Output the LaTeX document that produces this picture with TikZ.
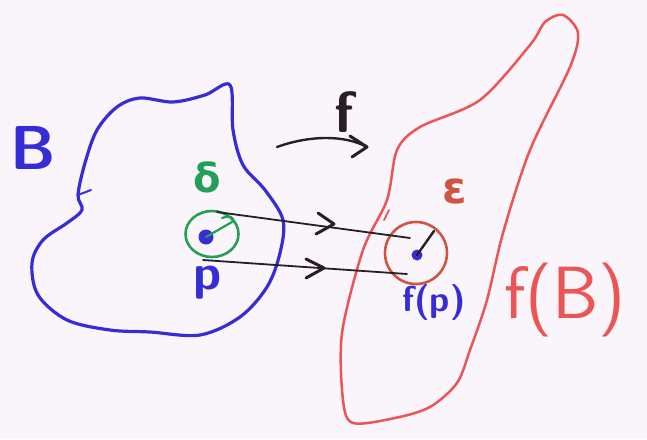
\documentclass[tikz,border=0pt]{standalone}
\usepackage{fontspec}
\newfontfamily\grk{DejaVu Sans}
\usetikzlibrary{arrows.meta,shapes.geometric}
\definecolor{paper}{RGB}{250,245,250}
\definecolor{penblue}{RGB}{55,45,215}
\definecolor{penred}{RGB}{236,85,85}
\definecolor{pengreen}{RGB}{35,160,85}
\definecolor{penblack}{RGB}{40,30,35}
\definecolor{penbrown}{RGB}{205,85,65}
\tikzset{
  bluepen/.style={draw=penblue,line width=3.2pt,line cap=round,line join=round},
  redpen/.style={draw=penred,line width=2.5pt,line cap=round,line join=round},
  blackpen/.style={draw=penblack,line width=1.8pt,line cap=round},
  chev/.style={draw=penblack,line width=3pt,line cap=round,line join=round},
  lab/.style={inner sep=0pt}
}
\begin{document}
\begin{tikzpicture}[x=1pt,y=-1pt]
\fill[paper] (0,0) rectangle (647,439);
\useasboundingbox (0,0) rectangle (647,439);
% region B
\draw[bluepen] plot[smooth cycle,tension=0.55] coordinates {
 (230,85) (205,95) (173,102) (140,98) (117,107) (97,130) (85,163) (78,195)
 (82,210) (67,223) (43,240) (32,263) (38,295) (67,320) (110,330) (150,332)
 (200,335) (240,317) (267,287) (280,253) (283,220) (265,190) (243,165) (233,130)};
\draw[bluepen,line width=2pt] (78,195) -- (91,190);
% region f(B)
\draw[redpen] plot[smooth cycle,tension=0.5] coordinates {
 (563,15) (578,33) (570,67) (530,150) (503,233) (487,300) (470,350) (457,383)
 (430,407) (395,418) (353,423) (343,400) (342,333) (363,250) (387,200)
 (397,150) (420,127) (480,100) (530,45) (545,22)};
\draw[redpen,line width=1.8pt] (384,220) -- (389,210);
% labels
\node[lab,text=penblue,font=\sffamily\bfseries\fontsize{62}{62}\selectfont] (B) at (33,148) {B};
\node[lab,text=penred,font=\sffamily\fontsize{74}{74}\selectfont] (fB) at (565,300) {f(B)};
\node[lab,text=penblack,font=\sffamily\bfseries\fontsize{58}{58}\selectfont] (f) at (344,112) {f};
% f arrow
\coordinate (fa1) at (277,147);
\coordinate (fa2) at (367,147);
\draw[blackpen,line width=2.4pt] (fa1) .. controls (310,135) and (345,135) .. (fa2);
\draw[chev] (350,136) -- (367,147) -- (352,157);
% neighbourhood of p
\node[draw=pengreen,line width=2.6pt,ellipse,minimum width=53pt,minimum height=46pt,inner sep=0pt] (U) at (212,234) {};
\node[circle,fill=penblue,minimum size=15pt,inner sep=0pt] (p) at (206,237) {};
\draw[draw=pengreen,line width=2.2pt,line cap=round] (p.center) -- (225,226) -- (232,222) .. controls (236,217) and (228,215) .. (222,218);
\node[lab,text=pengreen,font=\grk\bfseries\fontsize{40}{40}\selectfont] (d) at (207,177) {δ};
\node[lab,text=penblue,font=\sffamily\bfseries\fontsize{50}{50}\selectfont] (pl) at (208,283) {p};
% epsilon ball
\node[draw=penbrown,line width=2.6pt,circle,minimum size=62pt,inner sep=0pt] (V) at (416,253) {};
\node[circle,fill=penblue,minimum size=11pt,inner sep=0pt] (fp) at (417,255) {};
\draw[blackpen,line width=2.4pt] (fp.center) -- (434,231);
\node[lab,text=penbrown,font=\grk\bfseries\fontsize{44}{44}\selectfont] (eps) at (455,191) {ε};
\node[lab,text=penblue,font=\sffamily\bfseries\fontsize{36}{36}\selectfont] (fpl) at (434,302) {f(p)};
% mapping arrows
\coordinate (a1) at (217,212);
\coordinate (b1) at (410,238);
\coordinate (a2) at (203,260);
\coordinate (b2) at (407,274);
\draw[blackpen] (a1) -- (b1);
\draw[blackpen] (a2) -- (b2);
\draw[chev] (318,213) -- (334,224) -- (316,234);
\draw[chev] (306,259) -- (324,268) -- (306,278);
\end{tikzpicture}
\end{document}
